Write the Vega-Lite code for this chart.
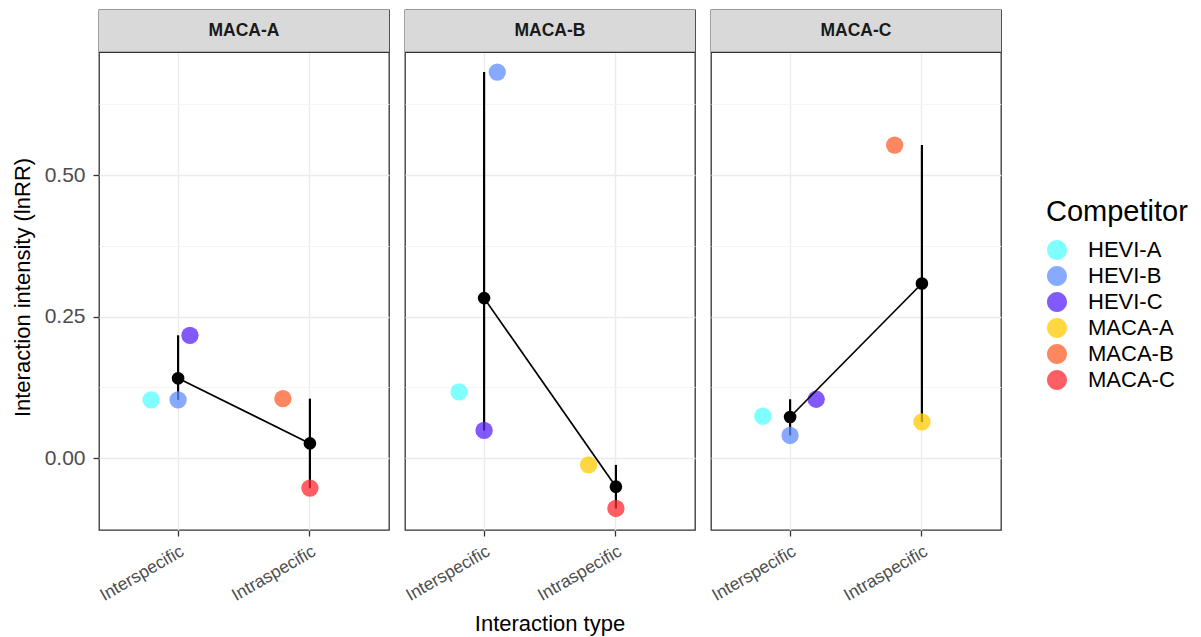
{
  "$schema": "https://vega.github.io/schema/vega-lite/v6.json",
  "padding": {"left": 11, "top": 9, "right": 5, "bottom": 5},
  "bounds": "flush",
  "config": {
    "font": "Liberation Sans",
    "view": {"stroke": "#333333", "strokeWidth": 1.3},
    "facet": {"spacing": 16}
  },
  "data": {
    "values": [
      {"focal": "MACA-A", "type": "Interspecific", "competitor": "HEVI-A", "lnRR": 0.103, "jitter": -0.205},
      {"focal": "MACA-A", "type": "Interspecific", "competitor": "HEVI-B", "lnRR": 0.103, "jitter": 0.0},
      {"focal": "MACA-A", "type": "Interspecific", "competitor": "HEVI-C", "lnRR": 0.217, "jitter": 0.09},
      {"focal": "MACA-A", "type": "Intraspecific", "competitor": "MACA-B", "lnRR": 0.105, "jitter": -0.205},
      {"focal": "MACA-A", "type": "Intraspecific", "competitor": "MACA-C", "lnRR": -0.053, "jitter": 0.0},
      {"focal": "MACA-B", "type": "Interspecific", "competitor": "HEVI-A", "lnRR": 0.117, "jitter": -0.19},
      {"focal": "MACA-B", "type": "Interspecific", "competitor": "HEVI-B", "lnRR": 0.682, "jitter": 0.1},
      {"focal": "MACA-B", "type": "Interspecific", "competitor": "HEVI-C", "lnRR": 0.049, "jitter": 0.0},
      {"focal": "MACA-B", "type": "Intraspecific", "competitor": "MACA-A", "lnRR": -0.012, "jitter": -0.207},
      {"focal": "MACA-B", "type": "Intraspecific", "competitor": "MACA-C", "lnRR": -0.089, "jitter": 0.0},
      {"focal": "MACA-C", "type": "Interspecific", "competitor": "HEVI-A", "lnRR": 0.074, "jitter": -0.207},
      {"focal": "MACA-C", "type": "Interspecific", "competitor": "HEVI-B", "lnRR": 0.040, "jitter": 0.0},
      {"focal": "MACA-C", "type": "Interspecific", "competitor": "HEVI-C", "lnRR": 0.104, "jitter": 0.198},
      {"focal": "MACA-C", "type": "Intraspecific", "competitor": "MACA-B", "lnRR": 0.553, "jitter": -0.207},
      {"focal": "MACA-C", "type": "Intraspecific", "competitor": "MACA-A", "lnRR": 0.064, "jitter": 0.0}
    ]
  },
  "facet": {
    "column": {
      "field": "focal", "type": "nominal",
      "header": {
        "title": "Interaction type", "titleOrient": "bottom", "labels": false,
        "titleFontSize": 22, "titleFontWeight": "normal", "titleColor": "#000000", "titlePadding": 0
      }
    }
  },
  "spec": {
    "width": 290,
    "height": 520,
    "encoding": {
      "x": {
        "field": "type", "type": "nominal",
        "scale": {"paddingInner": 0, "paddingOuter": 0.1},
        "axis": {
          "title": null,
          "labelAngle": -30, "labelAlign": "right", "labelBaseline": "top",
          "labelFontSize": 17.5, "labelColor": "#4D4D4D", "labelPadding": 6,
          "grid": true, "gridColor": "#EBEBEB", "gridWidth": 1.4,
          "domain": false, "tickSize": 6, "tickColor": "#333333", "tickWidth": 1.3
        }
      },
      "y": {
        "type": "quantitative",
        "scale": {"domain": [-0.127, 0.7917], "nice": false, "zero": false},
        "axis": {
          "title": "Interaction intensity (lnRR)",
          "titleY": 277,
          "values": [0, 0.125, 0.25, 0.375, 0.5, 0.625],
          "labelExpr": "datum.value % 0.25 === 0 ? format(datum.value, '.2f') : ''",
          "gridColor": {"condition": {"test": "datum.value % 0.25 === 0", "value": "#EBEBEB"}, "value": "#F4F4F4"},
          "gridWidth": {"condition": {"test": "datum.value % 0.25 === 0", "value": 1.4}, "value": 0.9},
          "tickOpacity": {"condition": {"test": "datum.value % 0.25 === 0", "value": 1}, "value": 0},
          "grid": true, "domain": false,
          "tickSize": 6, "tickColor": "#333333", "tickWidth": 1.3,
          "labelFontSize": 21, "labelColor": "#4D4D4D", "labelPadding": 8,
          "titleFontSize": 22, "titleFontWeight": "normal", "titleColor": "#000000", "titlePadding": 10
        }
      }
    },
    "layer": [
      {
        "transform": [{"aggregate": [{"op": "count", "as": "n"}], "groupby": ["focal"]}],
        "mark": {"type": "rect", "fill": "#D9D9D9", "strokeWidth": 0},
        "encoding": {"y": {"datum": 0.717}, "y2": {"datum": 0.7917}, "x": null}
      },
      {
        "transform": [{"aggregate": [{"op": "count", "as": "n"}], "groupby": ["focal"]}],
        "mark": {"type": "rule", "color": "#333333", "strokeWidth": 1.3},
        "encoding": {"y": {"datum": 0.717}, "x": null}
      },
      {
        "mark": {"type": "rule", "color": "#000000", "strokeWidth": 2.2},
        "encoding": {
          "y": {"aggregate": "min", "field": "lnRR"},
          "y2": {"aggregate": "max", "field": "lnRR"}
        }
      },
      {
        "mark": {"type": "point", "filled": true, "size": 300, "opacity": 0.75, "strokeWidth": 0},
        "encoding": {
          "y": {"field": "lnRR"},
          "xOffset": {"field": "jitter", "type": "quantitative", "scale": {"domain": [-0.5, 0.5]}},
          "color": {
            "field": "competitor", "type": "nominal",
            "scale": {
              "domain": ["HEVI-A", "HEVI-B", "HEVI-C", "MACA-A", "MACA-B", "MACA-C"],
              "range": ["#56FFFF", "#5F8EFF", "#5823F8", "#FFCA00", "#FF5F2A", "#FF2A30"]
            },
            "legend": {
              "title": "Competitor",
              "orient": "none", "legendX": 947, "legendY": 188,
              "titleFontSize": 29, "titleFontWeight": "normal", "titleColor": "#000000", "titlePadding": 12,
              "labelFontSize": 22, "labelColor": "#000000", "labelOffset": 20,
              "rowPadding": 4,
              "symbolType": "M-1.05,0L1.05,0L1,0A1,1,0,1,1,-1,0A1,1,0,1,1,1,0Z",
              "symbolSize": 400, "symbolStrokeWidth": 2, "symbolDash": [21, 400],
              "encode": {
                "symbols": {
                  "update": {
                    "stroke": {"scale": "color", "field": "value"},
                    "fill": {"scale": "color", "field": "value"},
                    "opacity": {"value": 1},
                    "fillOpacity": {"value": 0.72},
                    "strokeOpacity": {"value": 1},
                    "strokeWidth": {"value": 2},
                    "strokeDash": {"value": [21, 400]}
                  }
                }
              }
            }
          }
        }
      },
      {
        "mark": {"type": "line", "color": "#000000", "strokeWidth": 1.7},
        "encoding": {"y": {"aggregate": "mean", "field": "lnRR"}}
      },
      {
        "mark": {"type": "point", "filled": true, "size": 160, "opacity": 1, "color": "#000000"},
        "encoding": {"y": {"aggregate": "mean", "field": "lnRR"}}
      },
      {
        "transform": [{"aggregate": [{"op": "count", "as": "n"}], "groupby": ["focal"]}],
        "mark": {"type": "text", "fontSize": 17.5, "fontWeight": "bold", "color": "#1A1A1A", "baseline": "middle", "align": "center"},
        "encoding": {
          "x": {"datum": "Interspecific", "type": "nominal", "bandPosition": 1},
          "y": {"datum": 0.754},
          "text": {"field": "focal"}
        }
      }
    ]
  }
}
